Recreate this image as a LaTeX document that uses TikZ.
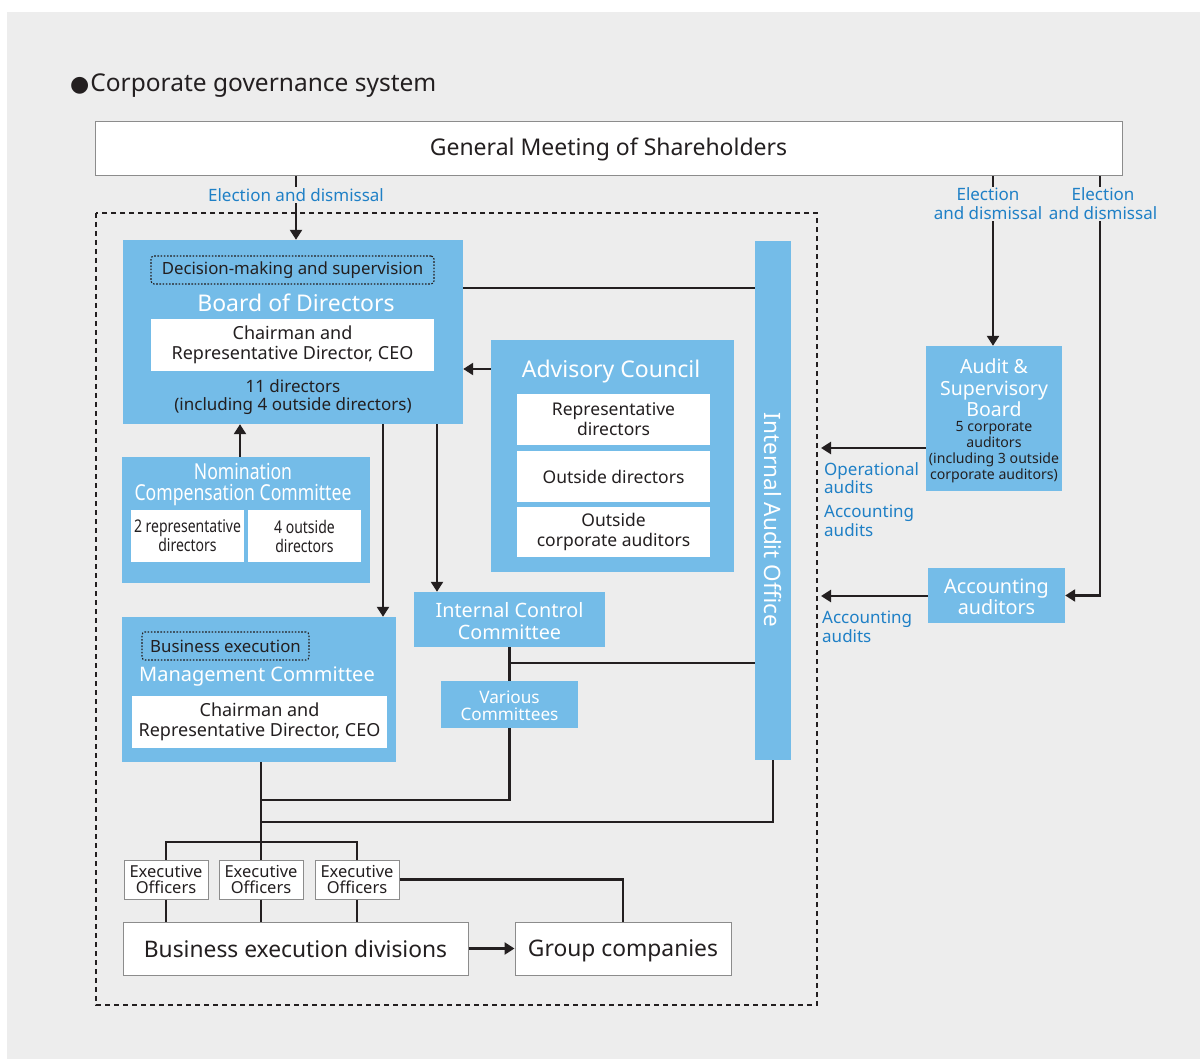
\documentclass[tikz,border=0pt]{standalone}
\usepackage{fontspec}
\setmainfont{Noto Sans}
\newfontfamily\condfont[FakeStretch=0.8]{Noto Sans}
\newfontfamily\dejavu{DejaVu Sans}
\usetikzlibrary{arrows.meta}
\definecolor{bgc}{HTML}{EDEDED}
\definecolor{boxblue}{HTML}{74BCE8}
\definecolor{lblue}{HTML}{1F80C6}
\definecolor{dark}{HTML}{231F20}
\definecolor{gmborder}{HTML}{8C8C8C}
\newcommand\fs[2]{\fontsize{#1}{#2}\selectfont}
\tikzset{
  bluebox/.style={fill=boxblue, draw=none, inner sep=0pt},
  whitebox/.style={fill=white, draw=none, inner sep=0pt, text=dark, align=center},
  outlinebox/.style={fill=white, draw=gmborder, line width=1pt, inner sep=0pt, text=dark, align=center},
  dotbox/.style={draw=dark, line width=1.1pt, dash pattern=on 1.6pt off 1.6pt, rounded corners=3pt, inner sep=0pt, text=dark},
  wtext/.style={text=white, align=center, inner sep=0pt},
  dtext/.style={text=dark, align=center, inner sep=0pt},
  lbl/.style={text=lblue, align=center, inner sep=1pt, fill=bgc, font=\fs{17}{19}},
  lbll/.style={text=lblue, align=left, inner sep=0pt, font=\fs{17}{18.5}},
  ln/.style={draw=dark, line width=2.4pt},
  arr/.style={draw=dark, line width=2.4pt, -{Triangle[length=10pt,width=12pt]}},
  execbox/.style={outlinebox, minimum width=84, minimum height=39, font=\fs{16.5}{16.5}},
}
\begin{document}
\begin{tikzpicture}[x=1pt,y=-1pt]
\useasboundingbox (0,0) rectangle (1200,1059);
\fill[bgc] (7,12) rectangle (1200,1059);

% title
\node[anchor=base west, text=dark, inner sep=0pt, font=\fs{24.5}{28}] (title) at (70,92) {{\dejavu\fs{22}{26}●}\kern1pt Corporate governance system};

% outer dashed frame
\draw[dark, line width=1.5pt, dash pattern=on 5pt off 4pt] (96,213) rectangle (817,1005);

% General meeting
\node[outlinebox, minimum width=1027, minimum height=54, font=\fs{23}{27}] (gm) at (608.5,149) {General Meeting of Shareholders};

% Board of Directors
\node[bluebox, minimum width=340, minimum height=184] (board) at (293,332) {};
\node[dotbox, minimum width=283, minimum height=28, font=\fs{16.8}{19}] (dms) at (292.5,270) {Decision-making and supervision};
\node[wtext, font=\fs{23}{27}] (boardt) at (296,303) {Board of Directors};
\node[whitebox, minimum width=283, minimum height=52, font=\fs{18}{20.5}] (bchair) at (292.5,345) {Chairman and\\Representative Director, CEO};
\node[dtext, font=\fs{17}{18.5}] (bdir) at (293,397) {11 directors\\(including 4 outside directors)};

% Internal Audit Office
\node[bluebox, minimum width=36, minimum height=519] (iao) at (773,500.5) {};
\node[wtext, rotate=-90, font=\fs{22.5}{26}] (iaot) at (773,520) {Internal Audit Office};

% Advisory Council
\node[bluebox, minimum width=243, minimum height=232] (adv) at (612.5,456) {};
\node[wtext, font=\fs{23}{27}] (advt) at (611,372) {Advisory Council};
\node[whitebox, minimum width=193, minimum height=51, font=\fs{17.5}{20}] (adv1) at (613.5,419.5) {Representative\\directors};
\node[whitebox, minimum width=193, minimum height=51, font=\fs{17.5}{20}] (adv2) at (613.5,476.5) {Outside directors};
\node[whitebox, minimum width=193, minimum height=50, font=\fs{17.5}{20}] (adv3) at (613.5,532) {Outside\\corporate auditors};

% Nomination Compensation Committee
\node[bluebox, minimum width=248, minimum height=126] (ncc) at (246,520) {};
\node[wtext, font=\condfont\fs{22}{21.5}] (ncct) at (243,484.5) {Nomination\\Compensation Committee};
\node[whitebox, minimum width=113, minimum height=52, font=\condfont\fs{17.5}{19}] (ncc1) at (187.5,536) {2 representative\\directors};
\node[whitebox, minimum width=113, minimum height=52, font=\condfont\fs{17.5}{19}] (ncc2) at (304.5,536) {4 outside\\directors};

% Management Committee
\node[bluebox, minimum width=274, minimum height=145] (mc) at (259,689.5) {};
\node[dotbox, minimum width=167, minimum height=28, font=\fs{16.8}{19}] (bex) at (225.5,646) {Business execution};
\node[wtext, font=\fs{20}{24}] (mct) at (257,677) {Management Committee};
\node[whitebox, minimum width=255, minimum height=52, font=\fs{18}{20.5}] (mchair) at (259.5,722) {Chairman and\\Representative Director, CEO};

% Internal Control Committee and Various Committees
\node[bluebox, minimum width=191, minimum height=55] (icc) at (509.5,619.5) {};
\node[wtext, font=\fs{19.8}{22}] (icct) at (509.5,621) {Internal Control\\Committee};
\node[bluebox, minimum width=137, minimum height=47] (var) at (509.5,704.5) {};
\node[wtext, font=\fs{17.2}{16.5}] (vart) at (509.5,705.5) {Various\\Committees};

% Executive officers
\node[execbox] (eo1) at (166,879.5) {Executive\\Officers};
\node[execbox] (eo2) at (261,879.5) {Executive\\Officers};
\node[execbox] (eo3) at (357,879.5) {Executive\\Officers};

% bottom boxes
\node[outlinebox, minimum width=345, minimum height=53, font=\fs{22.8}{27}] (bed) at (295.5,948.5) {Business execution divisions};
\node[outlinebox, minimum width=216, minimum height=53, font=\fs{22.8}{27}, text depth=1pt] (gc) at (623,948.5) {Group companies};

% Audit & Supervisory Board
\node[bluebox, minimum width=136, minimum height=145] (asb) at (994,418.5) {};
\node[wtext, font=\fs{19.5}{21.5}] (asbt) at (994,388) {Audit \&\\Supervisory\\Board};
\node[dtext, font=\fs{14.1}{16}] (asbd) at (994,452) {5 corporate\\auditors\\(including 3 outside\\corporate auditors)};

% Accounting auditors
\node[bluebox, minimum width=137, minimum height=55] (aa) at (996.5,595.5) {};
\node[wtext, font=\fs{19.8}{21}] (aat) at (996.5,596.5) {Accounting\\auditors};

% free arrow ends at the frame
\coordinate (t1) at (821,448);
\coordinate (t2) at (821,596);

% connectors
\draw[arr] (gm.south -| 296,0) -- (board.north -| 296,0);
\draw[ln] (board.east |- 0,288) -- (iao.west |- 0,288);
\draw[arr] (adv.west |- 0,369) -- (board.east |- 0,369);
\draw[arr] (ncc.north -| 240,0) -- (board.south -| 240,0);
\draw[arr] (board.south -| 383,0) -- (mc.north -| 383,0);
\draw[arr] (board.south -| 437,0) -- (icc.north -| 437,0);
\draw[ln] (icc.south) -- (var.north);
\draw[ln] (icc.south |- 0,663) -- (iao.west |- 0,663);
\draw[ln] (var.south) -- (var.south |- 0,800) -- (eo2.north |- 0,800);
\draw[ln] (eo2.north |- mc.south) -- (eo2.north);
\draw[ln] (iao.south) -- (iao.south |- 0,822) -- (eo2.north |- 0,822);
\draw[ln] (eo1.north) -- (eo1.north |- 0,842) -- (eo3.north |- 0,842) -- (eo3.north);
\draw[ln] (eo1.south) -- (eo1.south |- bed.north);
\draw[ln] (eo2.south) -- (eo2.south |- bed.north);
\draw[ln] (eo3.south) -- (eo3.south |- bed.north);
\draw[arr] (bed.east) -- (gc.west);
\draw[ln] (eo3.east) -| (gc.north);
\draw[arr] (gm.south -| 993,0) -- (asb.north -| 993,0);
\draw[arr] (gm.south -| 1100,0) |- (aa.east);
\draw[arr] (asb.west |- t1) -- (t1);
\draw[arr] (aa.west |- t2) -- (t2);

% labels
\node[lbl] (l1) at (296,195) {Election and dismissal};
\node[lbl] (l2) at (988,204) {Election\\and dismissal};
\node[lbl] (l3) at (1103,204) {Election\\and dismissal};
\node[lbll, anchor=north west] (l4) at (824,462) {Operational\\audits};
\node[lbll, anchor=north west] (l5) at (824,505) {Accounting\\audits};
\node[lbll, anchor=north west] (l6) at (822,611) {Accounting\\audits};
\end{tikzpicture}
\end{document}
